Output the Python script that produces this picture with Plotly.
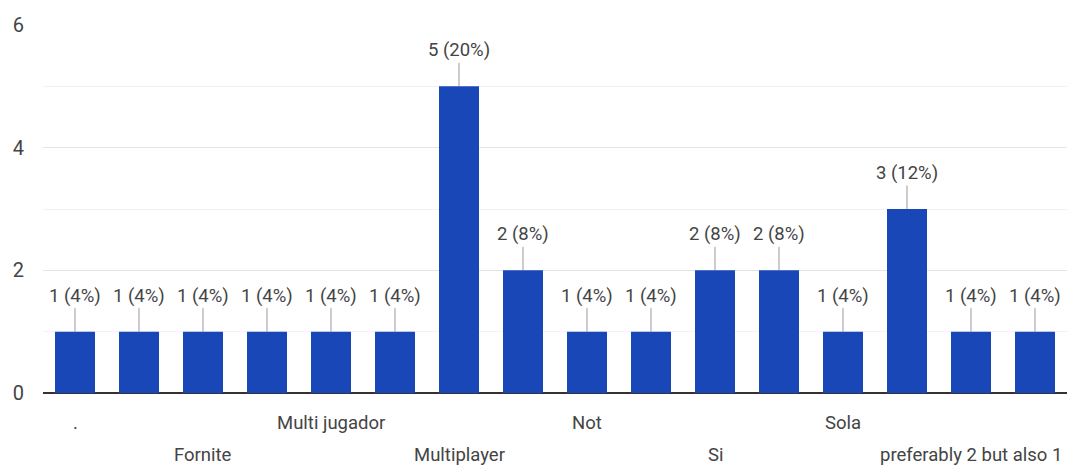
import plotly.graph_objects as go

values = [1, 1, 1, 1, 1, 1, 5, 2, 1, 1, 2, 2, 1, 3, 1, 1]
total = sum(values)
bar_labels = [f"{v} ({round(v / total * 100)}%)" for v in values]
# Only every second category name is visible in the reference; they alternate between two rows
tick_positions = [0, 2, 4, 6, 8, 10, 12, 14]
tick_texts = [".", "Fornite", "Multi jugador", "Multiplayer", "Not", "Si", "Sola", "preferably 2 but also 1"]
tick_rows = [1, 2, 1, 2, 1, 2, 1, 2]
y_ticks = [0, 2, 4, 6]

x = list(range(len(values)))
FONT = "Roboto, Arial, sans-serif"
TXT = "#444444"

fig = go.Figure(go.Bar(x=x, y=values, marker=dict(color="#1a47b8", line=dict(width=0)),
                       hoverinfo="skip"))

annotations = []
for xi, v, lab in zip(x, values, bar_labels):
    annotations.append(dict(x=xi, y=v, xref="x", yref="y", text=lab, showarrow=True,
                            arrowhead=0, arrowwidth=1, arrowcolor="#9a9a9a", ax=0, ay=-36,
                            standoff=0, font=dict(family=FONT, size=18.5, color=TXT)))
for pos, txt, row in zip(tick_positions, tick_texts, tick_rows):
    annotations.append(dict(x=pos, y=0, xref="x", yref="paper", text=txt, showarrow=False,
                            yanchor="middle", yshift=-30 if row == 1 else -62,
                            font=dict(family=FONT, size=18.5, color=TXT)))

fig.update_layout(
    width=1067, height=468,
    margin=dict(l=43, r=0, t=25, b=75),
    paper_bgcolor="white", plot_bgcolor="white",
    bargap=0.375, showlegend=False,
    annotations=annotations,
    xaxis=dict(range=[-0.5, len(values) - 0.5], showticklabels=False, showgrid=False,
               zeroline=False, showline=False, fixedrange=True),
    yaxis=dict(range=[0, 6], tickvals=y_ticks, ticktext=[str(t) for t in y_ticks],
               showgrid=True, gridcolor="#e4e4e4", gridwidth=1,
               minor=dict(tickvals=[1, 3, 5], showgrid=True, gridcolor="#f2f2f2", gridwidth=1),
               zeroline=True, zerolinecolor="#333333", zerolinewidth=1.5,
               ticks="", ticklabelstandoff=18,
               tickfont=dict(family=FONT, size=20, color=TXT), fixedrange=True),
)

fig.write_html("out.html")
